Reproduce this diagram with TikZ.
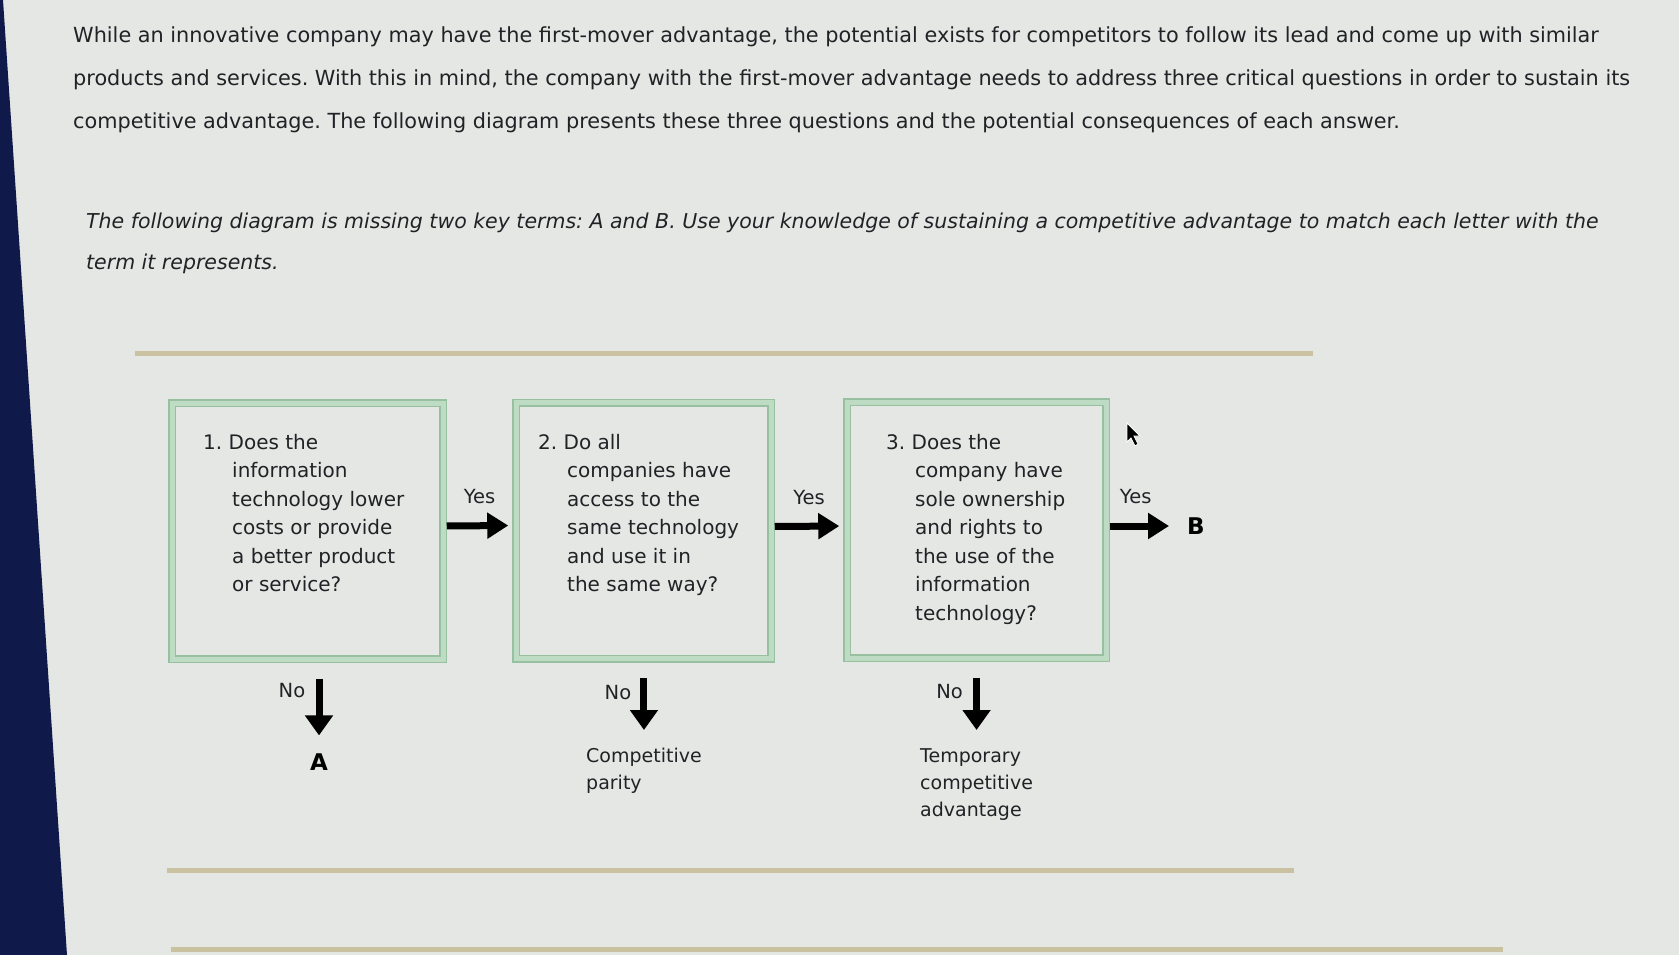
\documentclass[tikz,border=0pt]{standalone}
\usepackage{fontspec}
\setmainfont{DejaVu Sans}
\usetikzlibrary{arrows.meta,positioning}
\definecolor{paper}{RGB}{229,231,229}
\definecolor{navy}{RGB}{16,26,74}
\definecolor{ink}{RGB}{34,34,38}
\definecolor{framegreen}{RGB}{150,192,160}
\definecolor{bandgreen}{RGB}{190,220,196}
\definecolor{ruletan}{RGB}{201,193,160}
\newcommand\hang{\hspace*{29pt}}
\frenchspacing
\tikzset{
  qbox/.style={draw=framegreen,double=bandgreen,double distance=5pt,line width=1.5pt,inner sep=0pt,minimum height=256pt},
  qtext/.style={anchor=north west,align=left,inner sep=0pt,text=ink,font=\fontsize{20}{28.5}\selectfont},
  otext/.style={anchor=north west,align=left,inner sep=0pt,text=ink,font=\fontsize{19}{27}\selectfont},
  term/.style={inner sep=0pt,text=black,font=\fontsize{23}{23}\selectfont\bfseries},
  fatright/.style={line width=7pt,-{Triangle[length=21pt,width=25pt]},shorten <=3pt,shorten >=7pt},
  fatdown/.style={line width=7pt,-{Triangle[length=20pt,width=27pt]},shorten <=19pt,shorten >=18pt},
  lbl/.style={text=ink,inner sep=0pt,font=\fontsize{19.5}{19.5}\selectfont},
  rule/.style={line width=5pt,color=ruletan}
}
\begin{document}
\begin{tikzpicture}[x=1pt,y=-1pt]
	%Background
	\fill[paper] (0,0) rectangle (1679,955);
	\useasboundingbox (0,0) rectangle (1679,955);
	\fill[navy] (0,0)--(3,0)--(67,955)--(0,955)--cycle;
	%Intro text
	\node[anchor=north west,align=left,inner sep=0pt,text=ink,font=\fontsize{20.8}{43}\selectfont] (intro) at (73,26)
	{While an innovative company may have the first-mover advantage, the potential exists for competitors to follow its lead and come up with similar\\
	products and services. With this in mind, the company with the first-mover advantage needs to address three critical questions in order to sustain its\\
	competitive advantage. The following diagram presents these three questions and the potential consequences of each answer.};
	\node[anchor=north west,align=left,inner sep=0pt,text=ink,font=\fontsize{20.5}{41}\selectfont\itshape] (task) at (86,213)
	{The following diagram is missing two key terms: A and B. Use your knowledge of sustaining a competitive advantage to match each letter with the\\
	term it represents.};
	%Rules
	\draw[rule] (135,353)--(1313,353);
	\draw[rule] (167,870)--(1294,870);
	\draw[rule] (171,949)--(1503,949);
	%Question boxes
	\node[qbox,minimum width=271pt] (q1) at (307.5,531) {};
	\node[qbox,minimum width=255pt] (q2) at (643.5,530.5) {};
	\node[qbox,minimum width=259pt] (q3) at (976.5,530) {};
	\node[qtext] (t1) at (203,434) {1. Does the\\\hang information\\\hang technology lower\\\hang costs or provide\\\hang a better product\\\hang or service?};
	\node[qtext] (t2) at (538,434) {2. Do all\\\hang companies have\\\hang access to the\\\hang same technology\\\hang and use it in\\\hang the same way?};
	\node[qtext] (t3) at (886,434) {3. Does the\\\hang company have\\\hang sole ownership\\\hang and rights to\\\hang the use of the\\\hang information\\\hang technology?};
	%Outcomes
	\node[term] (A) at (319,762) {A};
	\node[term] (B) at (1196,526) {B};
	\node[otext] (o2) at (586,748) {Competitive\\parity};
	\node[otext] (o3) at (920,748) {Temporary\\competitive\\advantage};
	%Yes arrows
	\draw[fatright] ([yshift=5pt]q1.east)--([yshift=5pt]q2.west) node[lbl,midway,yshift=29pt] (y1) {Yes};
	\draw[fatright] ([yshift=4pt]q2.east)--([yshift=4pt]q3.west) node[lbl,midway,yshift=29pt] (y2) {Yes};
	\draw[fatright,shorten >=18pt] ([yshift=4pt]q3.east)--(B.west) node[lbl,pos=0.36,yshift=29pt] (y3) {Yes};
	%No arrows
	\draw[fatdown] (q1.south-|A.north)--(A.north) node[lbl,pos=0.33,xshift=-27pt] (n1) {No};
	\draw[fatdown] (q2.south-|o2.north)--(o2.north) node[lbl,pos=0.37,xshift=-26pt] (n2) {No};
	\draw[fatdown] (q3.south-|o3.north)--(o3.north) node[lbl,pos=0.37,xshift=-27pt] (n3) {No};
	%Cursor
	\filldraw[fill=black,draw=white,line width=0.8pt] (1127,423)--(1127,442)--(1131,438)--(1135,446)--(1138,444)--(1134,436)--(1140,436)--cycle;
\end{tikzpicture}
\end{document}
